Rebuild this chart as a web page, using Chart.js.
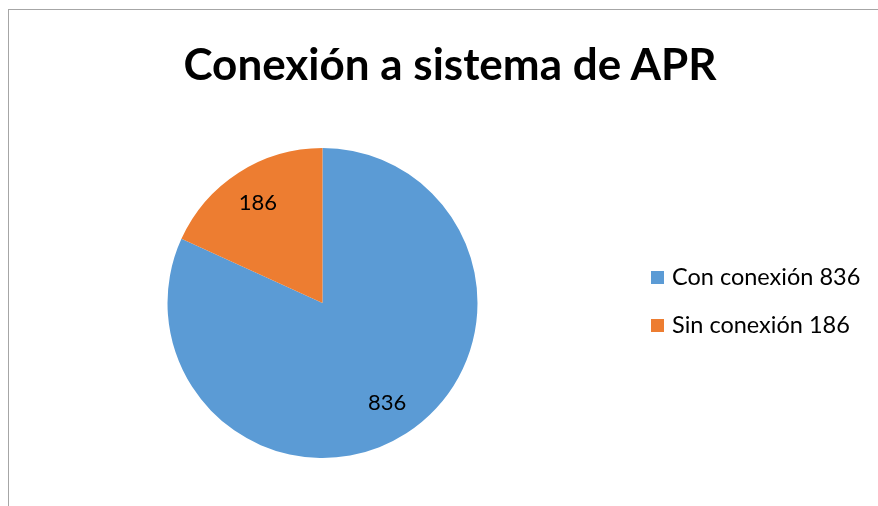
<!DOCTYPE html>
<html>
<head>
<meta charset="utf-8">
<script src="https://cdn.jsdelivr.net/npm/chart.js@4"></script>
<style>
  html, body { margin: 0; padding: 0; background: #fff; }
  #wrap { position: relative; width: 878px; height: 506px; overflow: hidden; font-family: Lato, "Open Sans", sans-serif; }
  #frame { position: absolute; left: 8px; top: 9px; width: 900px; height: 600px; border-left: 1px solid #a6a6a6; border-top: 1px solid #a6a6a6; }
  #titulo { position: absolute; left: 0; width: 900px; top: 33px; text-align: center; font-weight: 700; font-size: 44px; color: #000; line-height: 60px; }
  #leyenda { position: absolute; left: 651px; top: 262px; }
  .item { height: 48px; display: flex; align-items: flex-start; font-size: 23.5px; color: #000; line-height: 28px; }
  .cuadro { width: 13px; height: 13px; margin-top: 9px; margin-right: 8px; }
  canvas { position: absolute; left: 0; top: 0; }
</style>
</head>
<body>
<div id="wrap">
  <div id="frame"></div>
  <canvas id="grafico" width="878" height="506"></canvas>
  <div id="titulo">Conexión a sistema de APR</div>
  <div id="leyenda"></div>
</div>
<script>
// Datos del gráfico
const categorias = ['Con conexión', 'Sin conexión'];
const valores = [836, 186];
const colores = ['#5B9BD5', '#ED7D31'];

// Etiquetas de valor dentro de cada porción
const etiquetasValor = {
    id: 'etiquetasValor',
    afterDatasetsDraw(chart) {
        const ctx = chart.ctx;
        const meta = chart.getDatasetMeta(0);
        ctx.save();
        ctx.font = '22px Lato, "Open Sans", sans-serif';
        ctx.fillStyle = '#000';
        ctx.textAlign = 'center';
        ctx.textBaseline = 'middle';
        meta.data.forEach((arc, i) => {
            const p = arc.getProps(['x', 'y', 'startAngle', 'endAngle', 'outerRadius'], true);
            const ang = (p.startAngle + p.endAngle) / 2;
            const r = p.outerRadius * 0.77;
            ctx.fillText(String(chart.data.datasets[0].data[i]), p.x + Math.cos(ang) * r, p.y + Math.sin(ang) * r);
        });
        ctx.restore();
    }
};

const grafico = new Chart(document.getElementById('grafico').getContext('2d'), {
    type: 'pie',
    data: {
        labels: categorias,
        datasets: [{
            data: valores,
            backgroundColor: colores,
            borderWidth: 0
        }]
    },
    options: {
        responsive: false,
        animation: false,
        layout: { padding: { left: 167, top: 148, right: 400, bottom: 48 } },
        plugins: {
            legend: { display: false },
            title: { display: false },
            tooltip: { enabled: false }
        }
    },
    plugins: [etiquetasValor]
});

// Leyenda en HTML construida a partir de los datos
const leyenda = document.getElementById('leyenda');
categorias.forEach((cat, i) => {
    const item = document.createElement('div');
    item.className = 'item';
    item.innerHTML = '<span class="cuadro" style="background:' + colores[i] + '"></span><span>' + cat + ' ' + valores[i] + '</span>';
    leyenda.appendChild(item);
});
</script>
</body>
</html>
